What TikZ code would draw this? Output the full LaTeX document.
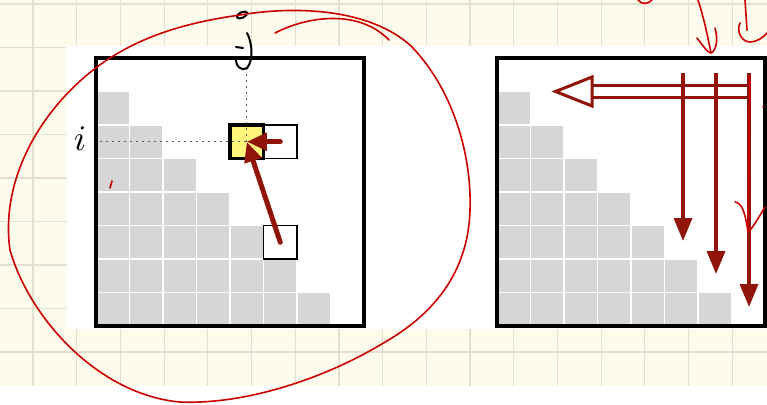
\documentclass[tikz,border=0pt]{standalone}
\usepackage{tikz}
\usetikzlibrary{arrows.meta,positioning}
\definecolor{paper}{RGB}{253,251,236}
\definecolor{paperline}{RGB}{228,224,208}
\definecolor{cellgray}{RGB}{214,214,214}
\definecolor{hiyellow}{RGB}{255,245,125}
\definecolor{arrred}{RGB}{145,20,8}
\definecolor{inkred}{RGB}{204,0,0}

\begin{document}
\begin{tikzpicture}[x=1pt,y=-1pt,
    cell/.style={fill=cellgray,draw=white,line width=1.6pt},
    frame/.style={draw=black,line width=3.5pt},
    pick/.style={draw=black,line width=1.5pt,minimum size=33.5pt,inner sep=0pt},
    guide/.style={black!65,line width=1pt,dash pattern=on 1.5pt off 4.5pt},
    move/.style={arrred,line width=5pt,line cap=round,-{Triangle[length=20pt,width=17pt]}},
    sweep/.style={arrred,line width=3.5pt,-{Triangle[length=23pt,width=18pt]}},
    ink/.style={inkred,line width=1.6pt,line cap=round,line join=round},
    pen/.style={black,line width=2pt,line cap=round}]
  \useasboundingbox (0,0) rectangle (767,404);
  % squared paper and the white sheet
  \fill[paper] (0,0) rectangle (767,386);
  \foreach \k in {0,...,16}
    \draw[paperline,line width=1.2pt] ({33+43.7*\k},0) -- ({33+43.7*\k},386);
  \foreach \k in {0,...,8}
    \draw[paperline,line width=1.2pt] (0,{4+43.5*\k}) -- (767,{4+43.5*\k});
  \fill[white] (67,46) rectangle (767,329);
  % lower triangles of cells
  \foreach \ox in {96,497}
    \foreach \r in {1,...,7}
      \foreach \c in {1,...,\r}
        \draw[cell] ({\ox+33.5*(\c-1)},{58+33.5*\r}) rectangle +(33.5,33.5);
  \draw[frame] (96,58) rectangle (364,326);
  \draw[frame] (497,58) rectangle (765,326);
  % left: one cell and its two neighbours
  \node[pick] (nxt) at (280.25,141.75) {};
  \node[pick] (dia) at (280.25,242.25) {};
  \node[pick,fill=hiyellow,line width=3.5pt] (cur) at (246.75,141.75) {};
  \coordinate (ileft) at (100,141.75);
  \coordinate (jtop) at (246.75,68);
  \draw[guide] (ileft) -- (cur.center);
  \draw[guide] (jtop) -- (cur.center);
  \node[scale=3.6] (ilab) at (80,139) {$i$};
  \draw[move] (nxt.center) -- (cur.center);
  \draw[move] (dia.center) -- (cur.center);
  % handwritten j
  \draw[pen,rotate around={25:(242,15)}] (242,15) ellipse [x radius=5.5pt,y radius=2.8pt];
  \draw[pen] (247,33) .. controls (252,42) and (254,60) .. (247,68)
             .. controls (242,72) and (235,66) .. (236,58);
  \draw[pen] (236,47) -- (243,48);
  % right: sweep order
  \coordinate (rowstart) at (749,91);
  \coordinate (rowbase) at (592,91);
  \coordinate (rowend) at (555.5,91.5);
  \coordinate (colA) at (683,73);
  \coordinate (colB) at (716,73);
  \coordinate (colC) at (749,73);
  \coordinate (endA) at (683,241);
  \coordinate (endB) at (716,274);
  \coordinate (endC) at (749,307);
  \draw[arrred,line width=3pt,double=white,double distance=9pt] (rowstart) -- (rowbase);
  \draw[arrred,line width=3pt,fill=white] (rowend) -- (rowbase |- 0,77) -- (rowbase |- 0,106) -- cycle;
  \draw[sweep] (colA) -- (endA);
  \draw[sweep] (colB) -- (endB);
  \draw[sweep] (colC) -- (endC);
  % red pen notes
  \draw[ink] (240,15) .. controls (300,5) and (370,10) .. (410,45)
    .. controls (450,85) and (472,150) .. (470,210)
    .. controls (468,280) and (425,320) .. (380,345)
    .. controls (330,375) and (250,405) .. (180,402)
    .. controls (100,395) and (30,320) .. (10,250)
    .. controls (0,180) and (40,110) .. (97,67)
    .. controls (140,35) and (190,22) .. (240,15);
  \draw[ink] (275,33) .. controls (310,15) and (360,10) .. (389,40);
  \draw[ink] (112,181) -- (110,188);
  \draw[ink] (638,0) .. controls (642,5) and (648,4) .. (652,0);
  \draw[ink] (698,0) .. controls (704,18) and (708,38) .. (711,53);
  \draw[ink] (697,38) .. controls (703,46) and (708,53) .. (711,53)
             .. controls (717,50) and (718,38) .. (715,28);
  \draw[ink] (745,0) -- (747,30);
  \draw[ink] (740,23) .. controls (736,32) and (742,42) .. (750,42)
             .. controls (756,42) and (763,38) .. (767,33);
  \draw[ink] (750,76) -- (748,232);
  \draw[ink] (735,202) .. controls (742,203) and (745,212) .. (748,232)
             .. controls (753,228) and (760,215) .. (765,207);
  \fill[inkred] (763,107) circle (1pt);
\end{tikzpicture}
\end{document}
